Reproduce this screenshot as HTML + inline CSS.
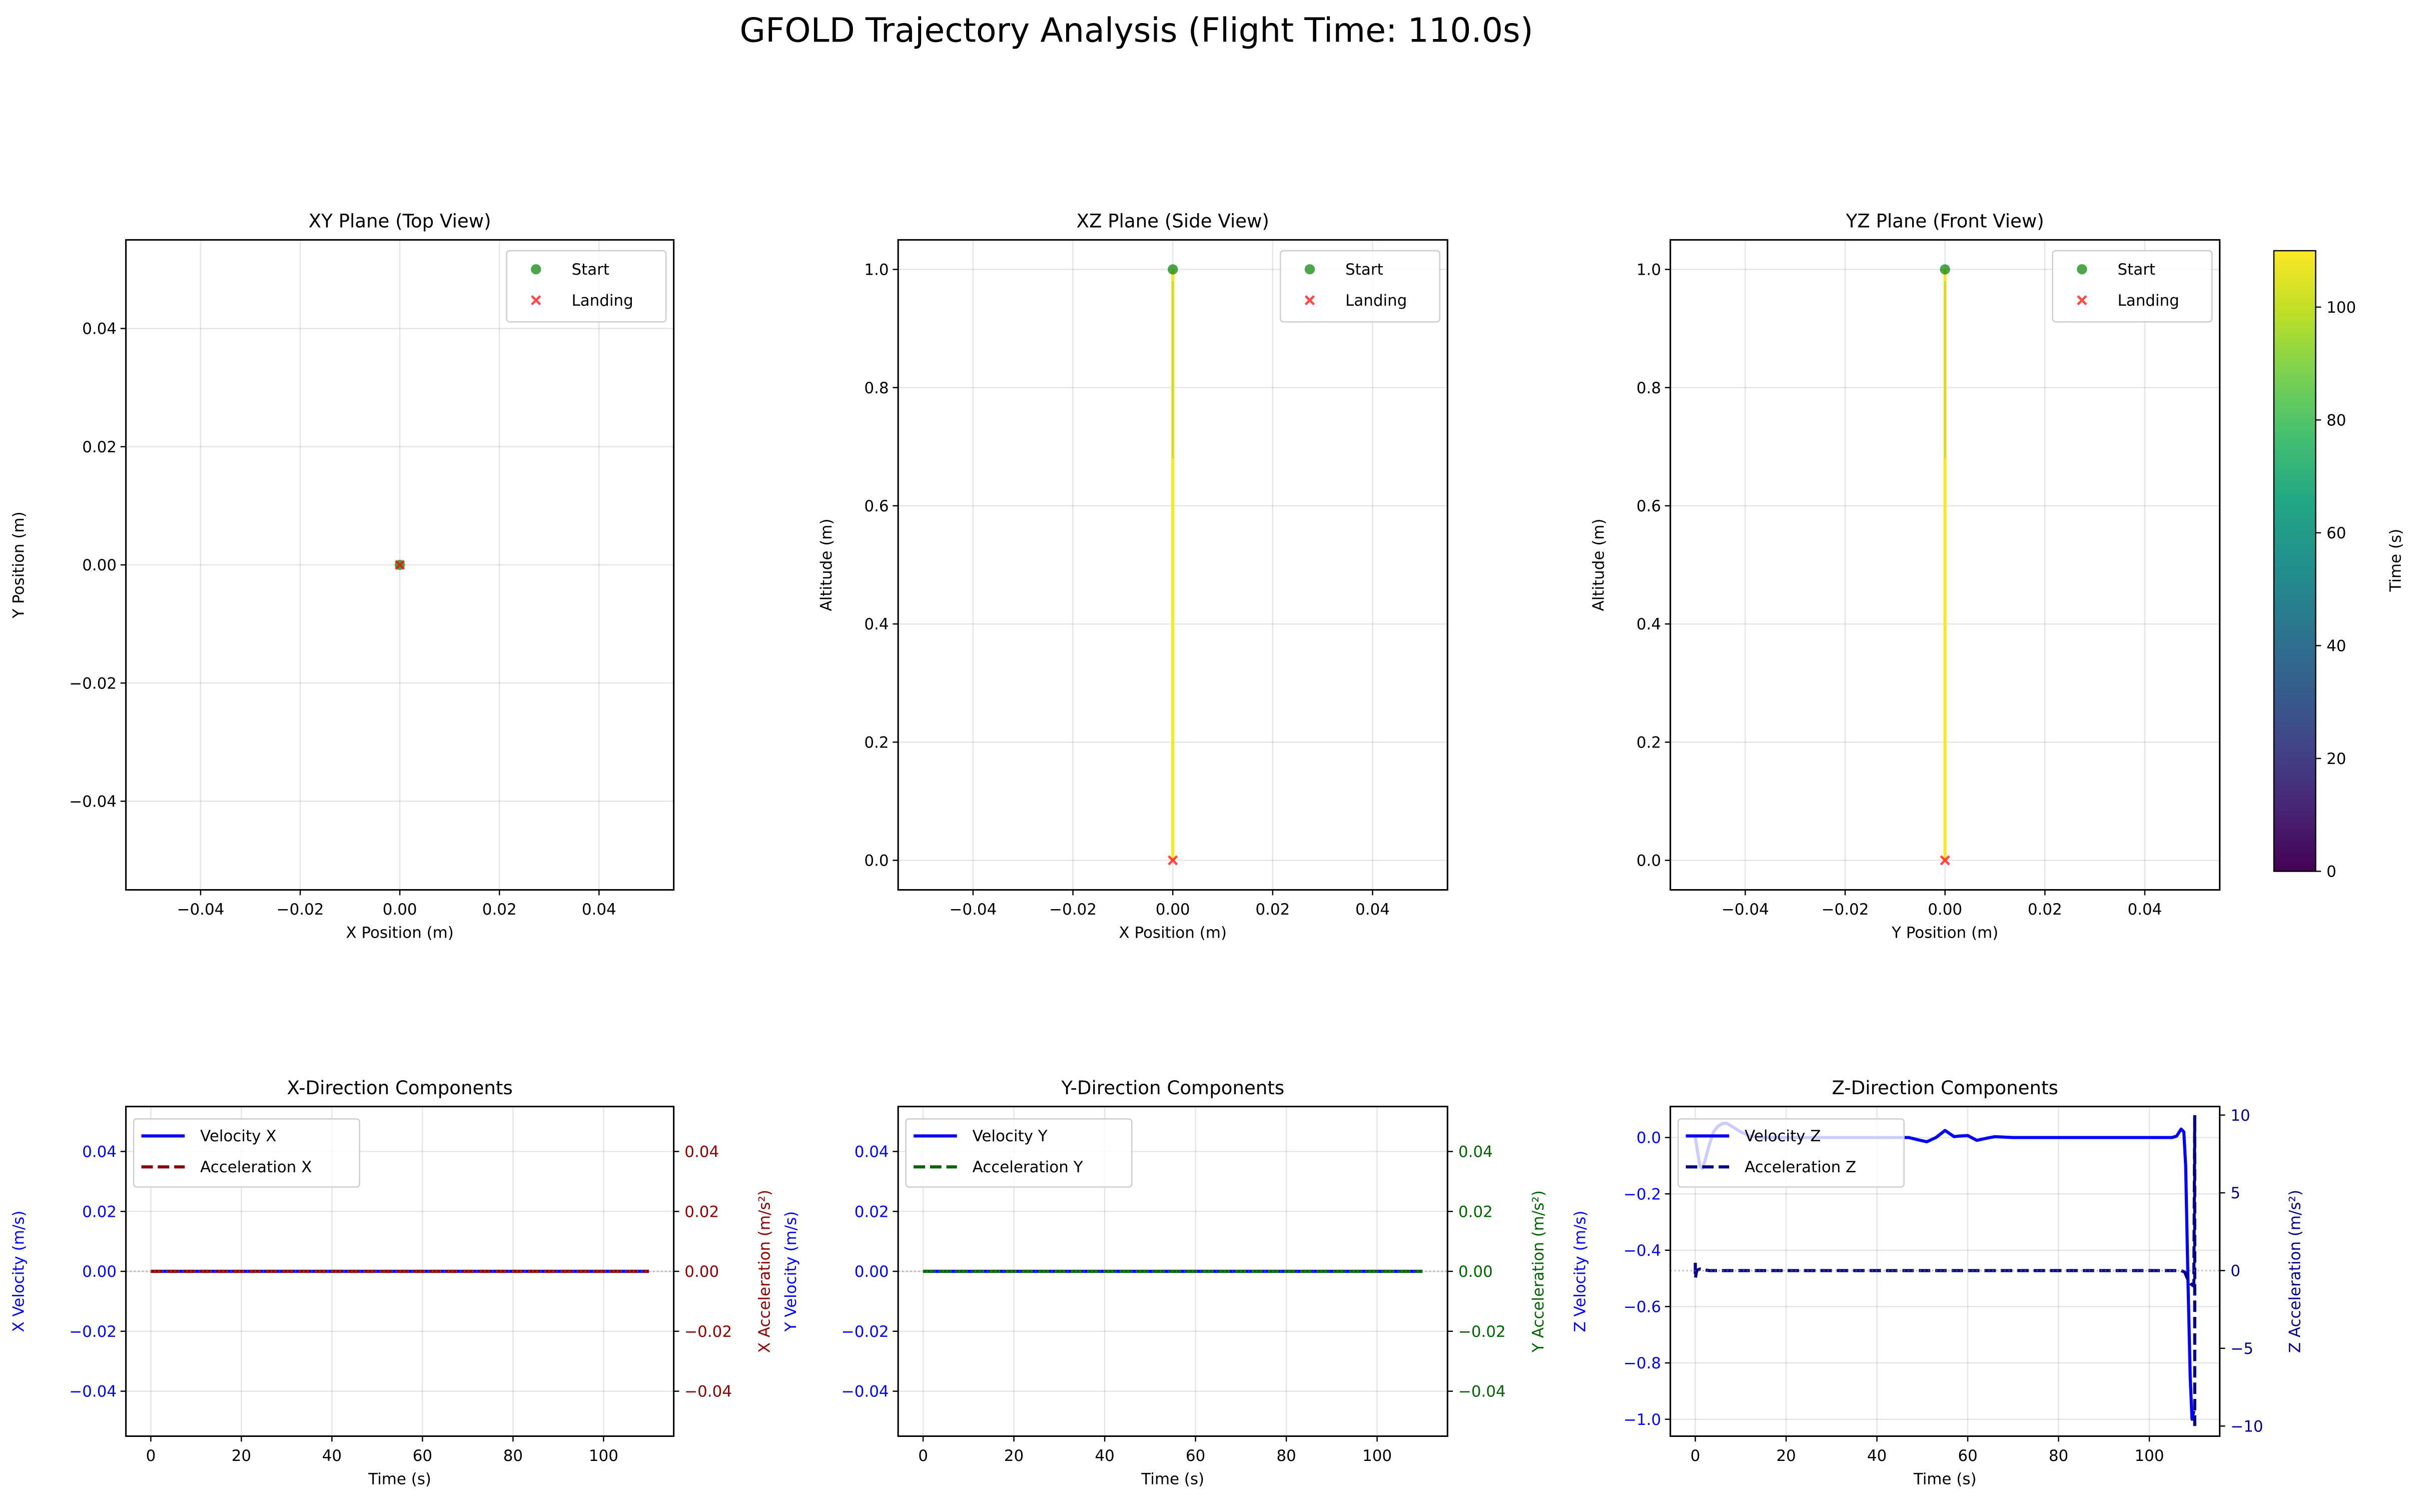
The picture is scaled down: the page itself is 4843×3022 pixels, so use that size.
<!DOCTYPE html>
<html><head><meta charset="utf-8"><style>
html,body{margin:0;padding:0;background:#fff;}
svg{display:block;font-family:"DejaVu Sans","Liberation Sans",sans-serif;}
</style></head><body>
<svg id="fig" xmlns="http://www.w3.org/2000/svg" width="4843" height="3022" viewBox="0 0 1565 977">
<defs>
<linearGradient id="viridis" x1="0" y1="1" x2="0" y2="0">
<stop offset="0" stop-color="#440154"/><stop offset="0.1" stop-color="#482475"/><stop offset="0.2" stop-color="#414487"/><stop offset="0.3" stop-color="#355f8d"/><stop offset="0.4" stop-color="#2a788e"/><stop offset="0.5" stop-color="#21918c"/><stop offset="0.6" stop-color="#22a884"/><stop offset="0.7" stop-color="#44bf70"/><stop offset="0.8" stop-color="#7ad151"/><stop offset="0.9" stop-color="#bddf26"/><stop offset="1" stop-color="#fde725"/>
</linearGradient>
</defs>
<text x="734" y="27" font-size="21.5" text-anchor="middle">GFOLD Trajectory Analysis (Flight Time: 110.0s)</text>
</svg>
<script>
// ---- data ----
const posTicks = [-0.04, -0.02, 0.00, 0.02, 0.04];
const altTicks = [0.0, 0.2, 0.4, 0.6, 0.8, 1.0];
const timeTicks = [0, 20, 40, 60, 80, 100];
const cbarTicks = [0, 20, 40, 60, 80, 100];
const smallTicks = [-0.04, -0.02, 0.00, 0.02, 0.04];
const zVelTicks = [0.0, -0.2, -0.4, -0.6, -0.8, -1.0];
const zAccTicks = [10, 5, 0, -5, -10];
const startPos = [0, 0, 1.0];
const landPos = [0, 0, 0.0];
const trajAlt = [1.0, 0.0];
const flatT = [0, 110];
const flatV = [0, 0];
const zVelT = [0,0.5,1,1.5,2,3,4,5,6,7,8,10,12,15,47,49,51,53,55,57,58,60,62,64,66,70,105,106,107,107.6,108,108.5,109,109.4,109.8];
const zVel  = [0,-0.05,-0.1,-0.11,-0.09,-0.03,0.02,0.04,0.05,0.05,0.04,0.02,0.005,0,0,-0.008,-0.015,0,0.025,0.003,0.005,0.007,-0.01,-0.003,0.003,0,0,0.005,0.03,0.02,-0.1,-0.5,-0.85,-1.0,-0.97];
const zAccT = [0,0,0.3,1,3,107,107.8,108.5,109.3,109.8,110,110,110];
const zAcc  = [0.5,-0.5,0,0.1,0,0,-0.1,-0.6,-0.9,-1.0,10,-10,-10];

const NS = 'http://www.w3.org/2000/svg';
const fig = document.getElementById('fig');
function mk(tag, attrs, name, parent) {
  const e = document.createElementNS(NS, tag);
  for (const k in attrs) e.setAttribute(k, attrs[k]);
  
  
  (parent || fig).appendChild(e);
  return e;
}
function txt(s, attrs, name, parent) { const e = mk('text', attrs, name, parent); e.textContent = s; return e; }
function fmt(v, d) { const s = Math.abs(v).toFixed(d); return (v < 0 ? '\u2212' : '') + s; }
function scale(d0, d1, r0, r1) { return v => r0 + (v - d0) / (d1 - d0) * (r1 - r0); }

function frame(p, pre) {
  mk('rect', {x:p.l, y:p.t, width:p.r-p.l, height:p.b-p.t, fill:'none', stroke:'#000', 'stroke-width':1}, pre+'-frame');
}
function xAxis(p, sx, ticks, d, label, pre) {
  ticks.forEach(v => {
    const x = sx(v);
    mk('line', {x1:x, x2:x, y1:p.t, y2:p.b, stroke:'#000', 'stroke-opacity':0.1, 'stroke-width':0.8}, pre+'-x-grid');
    mk('line', {x1:x, x2:x, y1:p.b, y2:p.b+3.5, stroke:'#000', 'stroke-width':0.8}, pre+'-x-tick');
    txt(fmt(v, d), {x:x, y:p.b+16, 'font-size':10, 'text-anchor':'middle'}, pre+'-x-tick-label');
  });
  txt(label, {x:(p.l+p.r)/2, y:p.b+31, 'font-size':10, 'text-anchor':'middle'}, pre+'-x-axis-title');
}
function yAxis(p, sy, ticks, d, label, pre, color, side, grid, lx) {
  color = color || '#000';
  ticks.forEach(v => {
    const y = sy(v);
    if (grid) mk('line', {x1:p.l, x2:p.r, y1:y, y2:y, stroke:'#000', 'stroke-opacity':0.1, 'stroke-width':0.8}, pre+'-y-grid');
    if (side === 'right') {
      mk('line', {x1:p.r, x2:p.r+3.5, y1:y, y2:y, stroke:'#000', 'stroke-width':0.8}, pre+'-y2-tick');
      txt(fmt(v, d), {x:p.r+7, y:y+3.6, 'font-size':10, fill:color}, pre+'-y2-tick-label');
    } else {
      mk('line', {x1:p.l-3.5, x2:p.l, y1:y, y2:y, stroke:'#000', 'stroke-width':0.8}, pre+'-y-tick');
      txt(fmt(v, d), {x:p.l-6, y:y+3.6, 'font-size':10, 'text-anchor':'end', fill:color}, pre+'-y-tick-label');
    }
  });
  const cy = (p.t+p.b)/2;
  txt(label, {x:lx, y:cy, 'font-size':10, 'text-anchor':'middle', fill:color, transform:'rotate(-90 '+lx+' '+cy+')'}, pre+(side==='right'?'-y2-axis-title':'-y-axis-title'));
}
function poly(xs, ys, sx, sy, attrs, name) {
  const pts = xs.map((x, i) => sx(x).toFixed(2)+','+sy(ys[i]).toFixed(2)).join(' ');
  const a = Object.assign({points:pts, fill:'none'}, attrs);
  return mk('polyline', a, name);
}
function scatterLegend(p, pre) {
  const x0 = p.r-108, y0 = p.t+7;
  mk('rect', {x:x0, y:y0, width:103, height:46, rx:2, fill:'#fff', 'fill-opacity':0.8, stroke:'#ccc', 'stroke-width':0.8}, pre+'-legend');
  mk('circle', {cx:x0+19, cy:y0+12, r:3.3, fill:'green', 'fill-opacity':0.7}, pre+'-legend-start-marker');
  txt('Start', {x:x0+42, y:y0+15.5, 'font-size':10}, pre+'-legend-start-label');
  mk('path', {d:xMark(x0+19, y0+32), fill:'red', 'fill-opacity':0.7}, pre+'-legend-landing-marker');
  txt('Landing', {x:x0+42, y:y0+35.5, 'font-size':10}, pre+'-legend-landing-label');
}
function xMark(cx, cy) {
  const a = 3.3, w = 1.1;
  return 'M'+(cx-a)+','+(cy-a+w)+' L'+(cx-a+w)+','+(cy-a)+' L'+cx+','+(cy-w)+' L'+(cx+a-w)+','+(cy-a)+' L'+(cx+a)+','+(cy-a+w)+' L'+(cx+w)+','+cy+' L'+(cx+a)+','+(cy+a-w)+' L'+(cx+a-w)+','+(cy+a)+' L'+cx+','+(cy+w)+' L'+(cx-a+w)+','+(cy+a)+' L'+(cx-a)+','+(cy+a-w)+' L'+(cx-w)+','+cy+' Z';
}

// ---- top row ----
const tops = [
  {l:81, r:435, title:'XY Plane (Top View)', xl:'X Position (m)', yl:'Y Position (m)', pre:'xy', lx:15},
  {l:580, r:935, title:'XZ Plane (Side View)', xl:'X Position (m)', yl:'Altitude (m)', pre:'xz', lx:537},
  {l:1079, r:1434, title:'YZ Plane (Front View)', xl:'Y Position (m)', yl:'Altitude (m)', pre:'yz', lx:1036}
];
tops.forEach((p, i) => {
  p.t = 155; p.b = 575;
  const sx = scale(-0.055, 0.055, p.l, p.r);
  txt(p.title, {x:(p.l+p.r)/2, y:p.t-8, 'font-size':12, 'text-anchor':'middle'}, p.pre+'-title');
  xAxis(p, sx, posTicks, 2, p.xl, p.pre);
  if (i === 0) {
    const sy = scale(-0.055, 0.055, p.b, p.t);
    yAxis(p, sy, posTicks, 2, p.yl, p.pre, '#000', 'left', true, p.lx);
    mk('circle', {cx:sx(startPos[0]), cy:sy(startPos[1]), r:3.3, fill:'green', 'fill-opacity':0.7}, 'xy-start-marker');
    mk('path', {d:xMark(sx(landPos[0]), sy(landPos[1])), fill:'red', 'fill-opacity':0.7}, 'xy-landing-marker');
  } else {
    const sy = scale(-0.05, 1.05, p.b, p.t);
    yAxis(p, sy, altTicks, 1, p.yl, p.pre, '#000', 'left', true, p.lx);
    poly([0, 0], trajAlt, sx, sy, {stroke:'#fde725', 'stroke-width':2}, p.pre+'-trajectory');
    mk('line', {x1:sx(0), x2:sx(0), y1:sy(0.98), y2:sy(0.68), stroke:'#c8d830', 'stroke-width':1}, p.pre+'-trajectory-early');
    mk('circle', {cx:sx(0), cy:sy(startPos[2]), r:3.3, fill:'green', 'fill-opacity':0.7}, p.pre+'-start-marker');
    mk('path', {d:xMark(sx(0), sy(landPos[2])), fill:'red', 'fill-opacity':0.7}, p.pre+'-landing-marker');
  }
  frame(p, p.pre);
  scatterLegend(p, p.pre);
});

// colorbar
const cb = {l:1469, r:1496, t:162, b:563};
const scb = scale(0, 110, cb.b, cb.t);
mk('rect', {x:cb.l, y:cb.t, width:cb.r-cb.l, height:cb.b-cb.t, fill:'url(#viridis)', stroke:'#000', 'stroke-width':0.8}, 'colorbar');
cbarTicks.forEach(v => {
  mk('line', {x1:cb.r, x2:cb.r+3.5, y1:scb(v), y2:scb(v), stroke:'#000', 'stroke-width':0.8}, 'colorbar-tick');
  txt(String(v), {x:cb.r+7, y:scb(v)+3.6, 'font-size':10}, 'colorbar-tick-label');
});
txt('Time (s)', {x:1551, y:362, 'font-size':10, 'text-anchor':'middle', transform:'rotate(-90 1551 362)'}, 'colorbar-title');

// ---- bottom row ----
const bots = [
  {l:81, r:435, title:'X-Direction Components', pre:'x-comp', vl:'X Velocity (m/s)', al:'X Acceleration (m/s\u00b2)', ac:'#8b0000', vn:'Velocity X', an:'Acceleration X', lx:15, rx:497},
  {l:580, r:935, title:'Y-Direction Components', pre:'y-comp', vl:'Y Velocity (m/s)', al:'Y Acceleration (m/s\u00b2)', ac:'#006400', vn:'Velocity Y', an:'Acceleration Y', lx:514, rx:997},
  {l:1079, r:1434, title:'Z-Direction Components', pre:'z-comp', vl:'Z Velocity (m/s)', al:'Z Acceleration (m/s\u00b2)', ac:'#00008b', vn:'Velocity Z', an:'Acceleration Z', lx:1024, rx:1486}
];
bots.forEach((p, i) => {
  p.t = 715; p.b = 928;
  const sx = scale(-5.5, 115.5, p.l, p.r);
  txt(p.title, {x:(p.l+p.r)/2, y:p.t-8, 'font-size':12, 'text-anchor':'middle'}, p.pre+'-title');
  xAxis(p, sx, timeTicks, 0, 'Time (s)', p.pre);
  let sv, sa;
  if (i < 2) {
    sv = scale(-0.055, 0.055, p.b, p.t);
    sa = sv;
    yAxis(p, sv, smallTicks, 2, p.vl, p.pre, 'blue', 'left', true, p.lx);
    yAxis(p, sa, smallTicks, 2, p.al, p.pre, p.ac, 'right', false, p.rx);
    poly(flatT, flatV, sx, sv, {stroke:'blue', 'stroke-width':2}, p.pre+'-velocity-line');
    poly(flatT, flatV, sx, sa, {stroke:p.ac, 'stroke-width':2, 'stroke-dasharray':'7.4,3.2'}, p.pre+'-acceleration-line');
  } else {
    sv = scale(-1.06, 0.11, p.b, p.t);
    sa = scale(-10.65, 10.55, p.b, p.t);
    yAxis(p, sv, zVelTicks, 1, p.vl, p.pre, 'blue', 'left', true, p.lx);
    yAxis(p, sa, zAccTicks, 0, p.al, p.pre, p.ac, 'right', false, p.rx);
    poly(zVelT, zVel, sx, sv, {stroke:'blue', 'stroke-width':2, 'stroke-linejoin':'round'}, p.pre+'-velocity-line');
    poly(zAccT, zAcc, sx, sa, {stroke:p.ac, 'stroke-width':2, 'stroke-dasharray':'7.4,3.2'}, p.pre+'-acceleration-line');
  }
  mk('line', {x1:p.l, x2:p.r, y1:sa(0), y2:sa(0), stroke:'gray', 'stroke-opacity':0.5, 'stroke-width':1, 'stroke-dasharray':'1,1.6'}, p.pre+'-zero-line');
  frame(p, p.pre);
  const x0 = p.l+5, y0 = p.t+8;
  const w = 146;
  mk('rect', {x:x0, y:y0, width:w, height:44, rx:2, fill:'#fff', 'fill-opacity':0.8, stroke:'#ccc', 'stroke-width':0.8}, p.pre+'-legend');
  mk('line', {x1:x0+5, x2:x0+33, y1:y0+11, y2:y0+11, stroke:'blue', 'stroke-width':2}, p.pre+'-legend-velocity-swatch');
  txt(p.vn, {x:x0+43, y:y0+14.5, 'font-size':10}, p.pre+'-legend-velocity-label');
  mk('line', {x1:x0+5, x2:x0+33, y1:y0+31, y2:y0+31, stroke:p.ac, 'stroke-width':2, 'stroke-dasharray':'7.4,3.2'}, p.pre+'-legend-acceleration-swatch');
  txt(p.an, {x:x0+43, y:y0+34.5, 'font-size':10}, p.pre+'-legend-acceleration-label');
});
</script>
</body></html>
